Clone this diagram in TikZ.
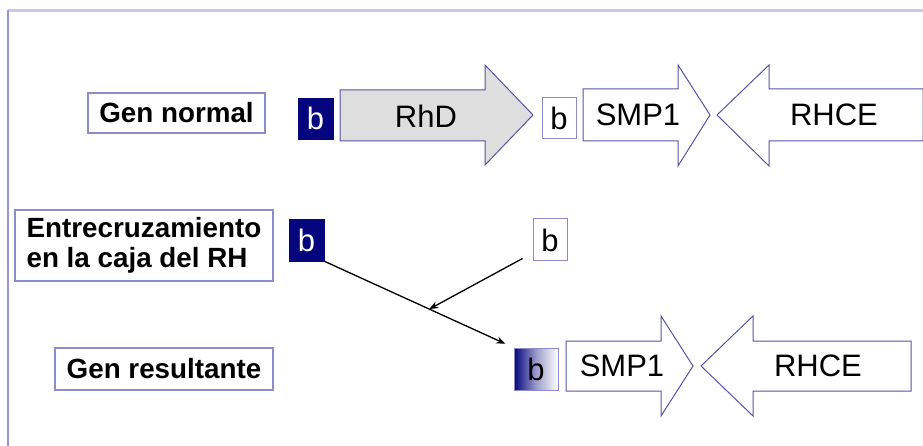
\documentclass[tikz,border=0pt]{standalone}
\usepackage{fontspec}
\setmainfont{Liberation Sans}
\usetikzlibrary{arrows.meta,calc}
\definecolor{navyb}{RGB}{5,5,125}
\definecolor{arrline}{RGB}{85,85,165}
\definecolor{boxline}{RGB}{140,140,205}
\definecolor{grayfill}{RGB}{222,222,222}
\definecolor{frametop}{RGB}{200,200,235}
\definecolor{frameleft}{RGB}{150,150,215}
\tikzset{
  lbl/.style={draw=boxline,line width=1.2pt,fill=white,inner sep=0pt,
    font=\fontsize{27.8}{30}\selectfont\bfseries},
  gene/.style={draw=arrline,line width=1pt},
  genetext/.style={font=\fontsize{31}{33}\selectfont},
  darkb/.style={draw=navyb,fill=navyb,text=white,inner sep=0pt,
    minimum width=35pt,minimum height=41pt,font=\fontsize{31}{33}\selectfont},
  whiteb/.style={draw=boxline,line width=1pt,fill=white,inner sep=0pt,
    minimum width=34pt,minimum height=41pt,font=\fontsize{31}{33}\selectfont},
  link/.style={line width=1.3pt,-{Stealth[length=9pt,width=7pt]}}
}
\begin{document}
\begin{tikzpicture}[x=1pt,y=-1pt]
\useasboundingbox (0,0) rectangle (923,446);
% frame
\draw[frametop,line width=3pt] (8,11) -- (923,11);
\draw[frameleft,line width=1.5pt] (8,10) -- (8,446);

% labels
\node[lbl,minimum width=177pt,minimum height=40pt] (gn) at (176.5,113) {Gen normal};
\node[lbl,minimum width=258pt,minimum height=71pt,align=left] (ent) at (144,245.5)
  {Entrecruzamiento\\en la caja del RH};
\node[lbl,minimum width=218pt,minimum height=42pt] (gr) at (164,369) {Gen resultante};

% row 1
\node[darkb] (b1) at (315.5,118.5) {b};
\draw[gene,fill=grayfill] (340,90) -- (485,90) -- (485,65) -- (533,115) -- (485,165) -- (485,141) -- (340,141) -- cycle;
\node[genetext] (rhd) at (426,116) {RhD};
\node[whiteb] (b2) at (559,118.5) {b};
\draw[gene,fill=white] (583,89) -- (678,89) -- (678,65) -- (710,115) -- (678,166) -- (678,141) -- (583,141) -- cycle;
\node[genetext] (smp1) at (638,115) {SMP1};
\draw[gene,fill=white] (717,115) -- (769,65) -- (769,89) -- (923,89) -- (923,141) -- (769,141) -- (769,166) -- cycle;
\node[genetext] (rhce) at (834,115) {RHCE};

% row 2
\node[darkb,minimum height=42pt] (b3) at (306.5,240) {b};
\node[whiteb,minimum height=42pt] (b4) at (550,240) {b};

% row 3
\node[draw=boxline,line width=1pt,left color=navyb,right color=white,middle color=navyb!40!white,
  inner sep=0pt,minimum width=44pt,minimum height=42pt,font=\fontsize{31}{33}\selectfont] (b5) at (536,369) {b};
\draw[gene,fill=white] (566,341) -- (661,341) -- (661,316) -- (693,366) -- (661,416) -- (661,391) -- (566,391) -- cycle;
\node[genetext] (smp2) at (622,366) {SMP1};
\draw[gene,fill=white] (701,366) -- (753,316) -- (753,341) -- (911,341) -- (911,391) -- (753,391) -- (753,416) -- cycle;
\node[genetext] (rhce2) at (818,366) {RHCE};

% connectors
\draw[link,shorten >=9pt] (b3.south east) -- coordinate[pos=0.555] (m) (b5.north west);
\draw[link] ($(b4.south west)+(-10,-3)$) -- (m);
\end{tikzpicture}
\end{document}
